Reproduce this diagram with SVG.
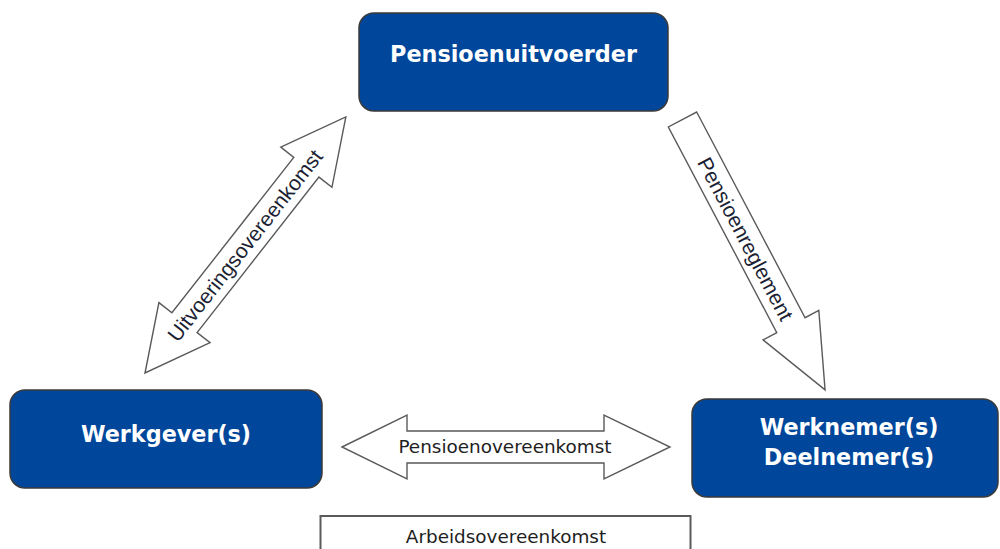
<svg xmlns="http://www.w3.org/2000/svg" width="1000" height="549" viewBox="0 0 1000 549">
<style>
.node{fill:#00479b;stroke:#3a3a3a;stroke-width:1.5}
.nlabel{font-family:"DejaVu Sans","Verdana",sans-serif;font-weight:bold;font-size:22.3px;fill:#ffffff;text-anchor:middle}
.arrow{fill:#ffffff;stroke:#5a5a5a;stroke-width:1.4;stroke-linejoin:miter}
.alabel{font-family:"Liberation Sans",Arial,sans-serif;font-size:21px;fill:#1c1f33;text-anchor:middle}
.hlabel{font-family:"DejaVu Sans","Verdana",sans-serif;font-size:18.4px;fill:#1e1e1e;text-anchor:middle}
</style>
<rect width="1000" height="549" fill="#ffffff"/>
<g id="connectors">
  <g id="uitvoeringsovereenkomst" transform="translate(145,373) rotate(-51.9)">
    <polygon class="arrow" points="0,0 64,-32.5 64,-16 261.5,-16 261.5,-32.5 325.5,0 261.5,32.5 261.5,16 64,16 64,32.5"/>
    <text class="alabel" x="162" y="0" dy="0.35em">Uitvoeringsovereenkomst</text>
  </g>
  <g id="pensioenreglement" transform="translate(682.5,119.5) rotate(62.2)">
    <polygon class="arrow" points="0,-16 232.5,-16 232.5,-31.5 305.7,0 232.5,31.5 232.5,16 0,16"/>
    <text class="alabel" x="135" y="0" dy="0.35em">Pensioenreglement</text>
  </g>
  <g id="pensioenovereenkomst">
    <polygon class="arrow" points="342,447 407,415 407,431 604,431 604,415 670,447 604,479 604,463 407,463 407,479"/>
    <text class="hlabel" x="505" y="453">Pensioenovereenkomst</text>
  </g>
</g>
<g id="pensioenuitvoerder">
  <rect class="node" x="359" y="13" width="309" height="98" rx="15"/>
  <text class="nlabel" x="513.5" y="62">Pensioenuitvoerder</text>
</g>
<g id="werkgever">
  <rect class="node" x="10" y="390" width="312" height="98" rx="15"/>
  <text class="nlabel" x="166" y="442">Werkgever(s)</text>
</g>
<g id="werknemer">
  <rect class="node" x="692" y="399" width="306" height="98" rx="15"/>
  <text class="nlabel" x="849" y="435">Werknemer(s)</text>
  <text class="nlabel" x="849" y="465">Deelnemer(s)</text>
</g>
<g id="arbeidsovereenkomst">
  <rect x="320.5" y="516" width="370" height="60" fill="#ffffff" stroke="#5a5a5a" stroke-width="2"/>
  <text class="hlabel" x="506" y="543">Arbeidsovereenkomst</text>
</g>
</svg>
